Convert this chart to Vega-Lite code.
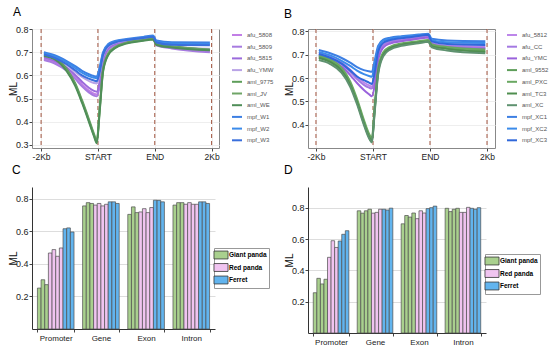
{
"$schema":"https://vega.github.io/schema/vega-lite/v6.json",
"padding":{"left":7,"top":5,"right":0,"bottom":0},
"config":{"font":"Liberation Sans","view":{"stroke":null},
 "axis":{"labelColor":"#222","tickColor":"#444","domainColor":"#333","titleColor":"#111","titleFontWeight":"normal","labelFontSize":9,"titleFontSize":10,"tickSize":3,"labelPadding":1},
 "axisY":{"titleX":-16,"titleBaseline":"alphabetic"},
 "title":{"fontWeight":"normal","fontSize":12,"anchor":"start","frame":"group","baseline":"alphabetic"}},
"columns":2,"bounds":"flush","spacing":{"row":39,"column":89},
"resolve":{"scale":{"color":"independent","fill":"independent","x":"independent","y":"independent","xOffset":"independent"},"legend":{"color":"independent","fill":"independent"}},
"concat":[
{"width":187,"height":119,"view":{"stroke":"#888"},
 "title":{"text":"A","dx":-19,"offset":6},
 "layer":[
 {"data":{"values":[{"x":0},{"x":1},{"x":2},{"x":3}]},"mark":{"type":"rule","strokeDash":[4,3],"color":"#a0523d","strokeWidth":1},
  "encoding":{"x":{"field":"x","type":"quantitative"}}},
 {"data":{"values":[
{"s":"afu_5808","x":0.05,"y":0.672},{"s":"afu_5808","x":0.25,"y":0.656},{"s":"afu_5808","x":0.45,"y":0.627},{"s":"afu_5808","x":0.6,"y":0.593},{"s":"afu_5808","x":0.72,"y":0.562},{"s":"afu_5808","x":0.84,"y":0.535},{"s":"afu_5808","x":0.93,"y":0.521},{"s":"afu_5808","x":0.98,"y":0.518},{"s":"afu_5808","x":1.03,"y":0.56},{"s":"afu_5808","x":1.09,"y":0.66},{"s":"afu_5808","x":1.18,"y":0.713},{"s":"afu_5808","x":1.3,"y":0.733},{"s":"afu_5808","x":1.5,"y":0.746},{"s":"afu_5808","x":1.8,"y":0.756},{"s":"afu_5808","x":1.97,"y":0.761},{"s":"afu_5808","x":2.03,"y":0.733},{"s":"afu_5808","x":2.3,"y":0.72},{"s":"afu_5808","x":2.97,"y":0.705},
{"s":"afu_5809","x":0.05,"y":0.666},{"s":"afu_5809","x":0.25,"y":0.65},{"s":"afu_5809","x":0.45,"y":0.62},{"s":"afu_5809","x":0.6,"y":0.585},{"s":"afu_5809","x":0.72,"y":0.553},{"s":"afu_5809","x":0.84,"y":0.527},{"s":"afu_5809","x":0.93,"y":0.513},{"s":"afu_5809","x":0.98,"y":0.51},{"s":"afu_5809","x":1.03,"y":0.552},{"s":"afu_5809","x":1.09,"y":0.655},{"s":"afu_5809","x":1.18,"y":0.71},{"s":"afu_5809","x":1.3,"y":0.731},{"s":"afu_5809","x":1.5,"y":0.744},{"s":"afu_5809","x":1.8,"y":0.754},{"s":"afu_5809","x":1.97,"y":0.759},{"s":"afu_5809","x":2.03,"y":0.73},{"s":"afu_5809","x":2.3,"y":0.716},{"s":"afu_5809","x":2.97,"y":0.7},
{"s":"afu_5815","x":0.05,"y":0.678},{"s":"afu_5815","x":0.25,"y":0.662},{"s":"afu_5815","x":0.45,"y":0.634},{"s":"afu_5815","x":0.6,"y":0.602},{"s":"afu_5815","x":0.72,"y":0.573},{"s":"afu_5815","x":0.84,"y":0.547},{"s":"afu_5815","x":0.93,"y":0.533},{"s":"afu_5815","x":0.98,"y":0.53},{"s":"afu_5815","x":1.03,"y":0.572},{"s":"afu_5815","x":1.09,"y":0.668},{"s":"afu_5815","x":1.18,"y":0.718},{"s":"afu_5815","x":1.3,"y":0.736},{"s":"afu_5815","x":1.5,"y":0.748},{"s":"afu_5815","x":1.8,"y":0.758},{"s":"afu_5815","x":1.97,"y":0.763},{"s":"afu_5815","x":2.03,"y":0.735},{"s":"afu_5815","x":2.3,"y":0.722},{"s":"afu_5815","x":2.97,"y":0.71},
{"s":"afu_YMW","x":0.05,"y":0.685},{"s":"afu_YMW","x":0.25,"y":0.67},{"s":"afu_YMW","x":0.45,"y":0.645},{"s":"afu_YMW","x":0.6,"y":0.615},{"s":"afu_YMW","x":0.72,"y":0.593},{"s":"afu_YMW","x":0.84,"y":0.576},{"s":"afu_YMW","x":0.93,"y":0.567},{"s":"afu_YMW","x":0.98,"y":0.565},{"s":"afu_YMW","x":1.03,"y":0.605},{"s":"afu_YMW","x":1.09,"y":0.682},{"s":"afu_YMW","x":1.18,"y":0.724},{"s":"afu_YMW","x":1.3,"y":0.74},{"s":"afu_YMW","x":1.5,"y":0.751},{"s":"afu_YMW","x":1.8,"y":0.76},{"s":"afu_YMW","x":1.97,"y":0.765},{"s":"afu_YMW","x":2.03,"y":0.738},{"s":"afu_YMW","x":2.3,"y":0.725},{"s":"afu_YMW","x":2.97,"y":0.715},
{"s":"aml_9775","x":0.05,"y":0.692},{"s":"aml_9775","x":0.25,"y":0.677},{"s":"aml_9775","x":0.45,"y":0.628},{"s":"aml_9775","x":0.6,"y":0.566},{"s":"aml_9775","x":0.72,"y":0.493},{"s":"aml_9775","x":0.84,"y":0.412},{"s":"aml_9775","x":0.93,"y":0.348},{"s":"aml_9775","x":0.98,"y":0.318},{"s":"aml_9775","x":1.03,"y":0.455},{"s":"aml_9775","x":1.09,"y":0.625},{"s":"aml_9775","x":1.18,"y":0.694},{"s":"aml_9775","x":1.3,"y":0.722},{"s":"aml_9775","x":1.5,"y":0.741},{"s":"aml_9775","x":1.8,"y":0.753},{"s":"aml_9775","x":1.97,"y":0.759},{"s":"aml_9775","x":2.03,"y":0.736},{"s":"aml_9775","x":2.3,"y":0.726},{"s":"aml_9775","x":2.97,"y":0.712},
{"s":"aml_JV","x":0.05,"y":0.688},{"s":"aml_JV","x":0.25,"y":0.672},{"s":"aml_JV","x":0.45,"y":0.622},{"s":"aml_JV","x":0.6,"y":0.56},{"s":"aml_JV","x":0.72,"y":0.487},{"s":"aml_JV","x":0.84,"y":0.406},{"s":"aml_JV","x":0.93,"y":0.342},{"s":"aml_JV","x":0.98,"y":0.312},{"s":"aml_JV","x":1.03,"y":0.448},{"s":"aml_JV","x":1.09,"y":0.62},{"s":"aml_JV","x":1.18,"y":0.69},{"s":"aml_JV","x":1.3,"y":0.719},{"s":"aml_JV","x":1.5,"y":0.739},{"s":"aml_JV","x":1.8,"y":0.751},{"s":"aml_JV","x":1.97,"y":0.757},{"s":"aml_JV","x":2.03,"y":0.733},{"s":"aml_JV","x":2.3,"y":0.723},{"s":"aml_JV","x":2.97,"y":0.71},
{"s":"aml_WE","x":0.05,"y":0.684},{"s":"aml_WE","x":0.25,"y":0.668},{"s":"aml_WE","x":0.45,"y":0.618},{"s":"aml_WE","x":0.6,"y":0.555},{"s":"aml_WE","x":0.72,"y":0.482},{"s":"aml_WE","x":0.84,"y":0.401},{"s":"aml_WE","x":0.93,"y":0.338},{"s":"aml_WE","x":0.98,"y":0.308},{"s":"aml_WE","x":1.03,"y":0.442},{"s":"aml_WE","x":1.09,"y":0.615},{"s":"aml_WE","x":1.18,"y":0.687},{"s":"aml_WE","x":1.3,"y":0.717},{"s":"aml_WE","x":1.5,"y":0.737},{"s":"aml_WE","x":1.8,"y":0.749},{"s":"aml_WE","x":1.97,"y":0.755},{"s":"aml_WE","x":2.03,"y":0.731},{"s":"aml_WE","x":2.3,"y":0.72},{"s":"aml_WE","x":2.97,"y":0.708},
{"s":"mpf_W1","x":0.05,"y":0.7},{"s":"mpf_W1","x":0.25,"y":0.686},{"s":"mpf_W1","x":0.45,"y":0.662},{"s":"mpf_W1","x":0.6,"y":0.64},{"s":"mpf_W1","x":0.72,"y":0.62},{"s":"mpf_W1","x":0.84,"y":0.605},{"s":"mpf_W1","x":0.93,"y":0.597},{"s":"mpf_W1","x":0.98,"y":0.595},{"s":"mpf_W1","x":1.03,"y":0.635},{"s":"mpf_W1","x":1.09,"y":0.7},{"s":"mpf_W1","x":1.18,"y":0.735},{"s":"mpf_W1","x":1.3,"y":0.748},{"s":"mpf_W1","x":1.5,"y":0.757},{"s":"mpf_W1","x":1.8,"y":0.766},{"s":"mpf_W1","x":1.97,"y":0.772},{"s":"mpf_W1","x":2.03,"y":0.75},{"s":"mpf_W1","x":2.3,"y":0.743},{"s":"mpf_W1","x":2.97,"y":0.742},
{"s":"mpf_W2","x":0.05,"y":0.696},{"s":"mpf_W2","x":0.25,"y":0.681},{"s":"mpf_W2","x":0.45,"y":0.656},{"s":"mpf_W2","x":0.6,"y":0.632},{"s":"mpf_W2","x":0.72,"y":0.612},{"s":"mpf_W2","x":0.84,"y":0.597},{"s":"mpf_W2","x":0.93,"y":0.59},{"s":"mpf_W2","x":0.98,"y":0.588},{"s":"mpf_W2","x":1.03,"y":0.625},{"s":"mpf_W2","x":1.09,"y":0.695},{"s":"mpf_W2","x":1.18,"y":0.731},{"s":"mpf_W2","x":1.3,"y":0.745},{"s":"mpf_W2","x":1.5,"y":0.754},{"s":"mpf_W2","x":1.8,"y":0.763},{"s":"mpf_W2","x":1.97,"y":0.769},{"s":"mpf_W2","x":2.03,"y":0.746},{"s":"mpf_W2","x":2.3,"y":0.737},{"s":"mpf_W2","x":2.97,"y":0.735},
{"s":"mpf_W3","x":0.05,"y":0.69},{"s":"mpf_W3","x":0.25,"y":0.674},{"s":"mpf_W3","x":0.45,"y":0.648},{"s":"mpf_W3","x":0.6,"y":0.622},{"s":"mpf_W3","x":0.72,"y":0.6},{"s":"mpf_W3","x":0.84,"y":0.586},{"s":"mpf_W3","x":0.93,"y":0.578},{"s":"mpf_W3","x":0.98,"y":0.575},{"s":"mpf_W3","x":1.03,"y":0.612},{"s":"mpf_W3","x":1.09,"y":0.688},{"s":"mpf_W3","x":1.18,"y":0.727},{"s":"mpf_W3","x":1.3,"y":0.742},{"s":"mpf_W3","x":1.5,"y":0.752},{"s":"mpf_W3","x":1.8,"y":0.761},{"s":"mpf_W3","x":1.97,"y":0.767},{"s":"mpf_W3","x":2.03,"y":0.742},{"s":"mpf_W3","x":2.3,"y":0.732},{"s":"mpf_W3","x":2.97,"y":0.73}
 ]},
  "mark":{"type":"line","interpolate":"monotone","strokeWidth":2},
  "encoding":{
   "x":{"field":"x","type":"quantitative","scale":{"domain":[-0.16,3.13],"nice":false,"zero":false},
     "axis":{"title":null,"values":[0,0.5,1,1.5,2,2.5,3],"labelExpr":"datum.value==0?'-2Kb':datum.value==1?'START':datum.value==2?'END':datum.value==3?'2Kb':''","labelOverlap":false,"labelFlush":false,"grid":true,"gridColor":"#eeeeee","domain":false,"labelFontSize":8.5,"tickColor":{"condition":{"test":"datum.value % 1 != 0","value":"transparent"},"value":"#444"}}},
   "y":{"field":"y","type":"quantitative","scale":{"domain":[0.287,0.8],"nice":false,"zero":false},
     "axis":{"title":"ML","values":[0.3,0.4,0.5,0.6,0.7,0.8],"grid":true,"gridColor":"#eeeeee","domain":false}},
   "color":{"field":"s","type":"nominal","scale":{"domain":["afu_5808","afu_5809","afu_5815","afu_YMW","aml_9775","aml_JV","aml_WE","mpf_W1","mpf_W2","mpf_W3"],"range":["#c27fe6","#a77be0","#9b6bdc","#b9a3e6","#5e9e5a","#6fa566","#4f8e58","#3d7fe3","#3b8bea","#3a6fdc"]},
     "legend":{"title":null,"orient":"none","legendX":199,"legendY":0,"symbolType":"stroke","symbolStrokeWidth":2,"symbolSize":100,"labelFontSize":6,"labelColor":"#555","rowPadding":1.7,"labelOffset":4}}
  }}
 ]},
{"width":187,"height":119,"view":{"stroke":"#888"},
 "title":{"text":"B","dx":-24,"offset":6},
 "layer":[
 {"data":{"values":[{"x":0},{"x":1},{"x":2},{"x":3}]},"mark":{"type":"rule","strokeDash":[4,3],"color":"#a0523d","strokeWidth":1},
  "encoding":{"x":{"field":"x","type":"quantitative"}}},
 {"data":{"values":[
{"s":"afu_5812","x":0.05,"y":0.706},{"s":"afu_5812","x":0.25,"y":0.691},{"s":"afu_5812","x":0.45,"y":0.666},{"s":"afu_5812","x":0.6,"y":0.636},{"s":"afu_5812","x":0.72,"y":0.606},{"s":"afu_5812","x":0.84,"y":0.581},{"s":"afu_5812","x":0.93,"y":0.569},{"s":"afu_5812","x":0.98,"y":0.563},{"s":"afu_5812","x":1.03,"y":0.608},{"s":"afu_5812","x":1.09,"y":0.7},{"s":"afu_5812","x":1.18,"y":0.745},{"s":"afu_5812","x":1.3,"y":0.758},{"s":"afu_5812","x":1.5,"y":0.766},{"s":"afu_5812","x":1.8,"y":0.775},{"s":"afu_5812","x":1.97,"y":0.78},{"s":"afu_5812","x":2.03,"y":0.752},{"s":"afu_5812","x":2.3,"y":0.739},{"s":"afu_5812","x":2.97,"y":0.735},
{"s":"afu_CC","x":0.05,"y":0.7},{"s":"afu_CC","x":0.25,"y":0.685},{"s":"afu_CC","x":0.45,"y":0.659},{"s":"afu_CC","x":0.6,"y":0.627},{"s":"afu_CC","x":0.72,"y":0.596},{"s":"afu_CC","x":0.84,"y":0.571},{"s":"afu_CC","x":0.93,"y":0.559},{"s":"afu_CC","x":0.98,"y":0.555},{"s":"afu_CC","x":1.03,"y":0.6},{"s":"afu_CC","x":1.09,"y":0.69},{"s":"afu_CC","x":1.18,"y":0.74},{"s":"afu_CC","x":1.3,"y":0.755},{"s":"afu_CC","x":1.5,"y":0.763},{"s":"afu_CC","x":1.8,"y":0.772},{"s":"afu_CC","x":1.97,"y":0.777},{"s":"afu_CC","x":2.03,"y":0.749},{"s":"afu_CC","x":2.3,"y":0.735},{"s":"afu_CC","x":2.97,"y":0.73},
{"s":"afu_YMC","x":0.05,"y":0.695},{"s":"afu_YMC","x":0.25,"y":0.679},{"s":"afu_YMC","x":0.45,"y":0.649},{"s":"afu_YMC","x":0.6,"y":0.613},{"s":"afu_YMC","x":0.72,"y":0.579},{"s":"afu_YMC","x":0.84,"y":0.549},{"s":"afu_YMC","x":0.93,"y":0.531},{"s":"afu_YMC","x":0.98,"y":0.522},{"s":"afu_YMC","x":1.03,"y":0.568},{"s":"afu_YMC","x":1.09,"y":0.675},{"s":"afu_YMC","x":1.18,"y":0.73},{"s":"afu_YMC","x":1.3,"y":0.748},{"s":"afu_YMC","x":1.5,"y":0.758},{"s":"afu_YMC","x":1.8,"y":0.768},{"s":"afu_YMC","x":1.97,"y":0.774},{"s":"afu_YMC","x":2.03,"y":0.745},{"s":"afu_YMC","x":2.3,"y":0.731},{"s":"afu_YMC","x":2.97,"y":0.725},
{"s":"aml_9552","x":0.05,"y":0.69},{"s":"aml_9552","x":0.25,"y":0.673},{"s":"aml_9552","x":0.45,"y":0.636},{"s":"aml_9552","x":0.6,"y":0.576},{"s":"aml_9552","x":0.72,"y":0.501},{"s":"aml_9552","x":0.84,"y":0.411},{"s":"aml_9552","x":0.93,"y":0.353},{"s":"aml_9552","x":0.98,"y":0.333},{"s":"aml_9552","x":1.03,"y":0.47},{"s":"aml_9552","x":1.09,"y":0.63},{"s":"aml_9552","x":1.18,"y":0.705},{"s":"aml_9552","x":1.3,"y":0.73},{"s":"aml_9552","x":1.5,"y":0.745},{"s":"aml_9552","x":1.8,"y":0.755},{"s":"aml_9552","x":1.97,"y":0.76},{"s":"aml_9552","x":2.03,"y":0.74},{"s":"aml_9552","x":2.3,"y":0.728},{"s":"aml_9552","x":2.97,"y":0.716},
{"s":"aml_PXC","x":0.05,"y":0.697},{"s":"aml_PXC","x":0.25,"y":0.68},{"s":"aml_PXC","x":0.45,"y":0.644},{"s":"aml_PXC","x":0.6,"y":0.586},{"s":"aml_PXC","x":0.72,"y":0.511},{"s":"aml_PXC","x":0.84,"y":0.421},{"s":"aml_PXC","x":0.93,"y":0.362},{"s":"aml_PXC","x":0.98,"y":0.343},{"s":"aml_PXC","x":1.03,"y":0.48},{"s":"aml_PXC","x":1.09,"y":0.638},{"s":"aml_PXC","x":1.18,"y":0.71},{"s":"aml_PXC","x":1.3,"y":0.734},{"s":"aml_PXC","x":1.5,"y":0.748},{"s":"aml_PXC","x":1.8,"y":0.758},{"s":"aml_PXC","x":1.97,"y":0.763},{"s":"aml_PXC","x":2.03,"y":0.744},{"s":"aml_PXC","x":2.3,"y":0.733},{"s":"aml_PXC","x":2.97,"y":0.722},
{"s":"aml_TC3","x":0.05,"y":0.686},{"s":"aml_TC3","x":0.25,"y":0.668},{"s":"aml_TC3","x":0.45,"y":0.631},{"s":"aml_TC3","x":0.6,"y":0.571},{"s":"aml_TC3","x":0.72,"y":0.496},{"s":"aml_TC3","x":0.84,"y":0.406},{"s":"aml_TC3","x":0.93,"y":0.348},{"s":"aml_TC3","x":0.98,"y":0.328},{"s":"aml_TC3","x":1.03,"y":0.462},{"s":"aml_TC3","x":1.09,"y":0.624},{"s":"aml_TC3","x":1.18,"y":0.7},{"s":"aml_TC3","x":1.3,"y":0.727},{"s":"aml_TC3","x":1.5,"y":0.742},{"s":"aml_TC3","x":1.8,"y":0.752},{"s":"aml_TC3","x":1.97,"y":0.757},{"s":"aml_TC3","x":2.03,"y":0.737},{"s":"aml_TC3","x":2.3,"y":0.725},{"s":"aml_TC3","x":2.97,"y":0.712},
{"s":"aml_XC","x":0.05,"y":0.677},{"s":"aml_XC","x":0.25,"y":0.66},{"s":"aml_XC","x":0.45,"y":0.622},{"s":"aml_XC","x":0.6,"y":0.563},{"s":"aml_XC","x":0.72,"y":0.488},{"s":"aml_XC","x":0.84,"y":0.4},{"s":"aml_XC","x":0.93,"y":0.343},{"s":"aml_XC","x":0.98,"y":0.325},{"s":"aml_XC","x":1.03,"y":0.455},{"s":"aml_XC","x":1.09,"y":0.615},{"s":"aml_XC","x":1.18,"y":0.693},{"s":"aml_XC","x":1.3,"y":0.722},{"s":"aml_XC","x":1.5,"y":0.738},{"s":"aml_XC","x":1.8,"y":0.749},{"s":"aml_XC","x":1.97,"y":0.755},{"s":"aml_XC","x":2.03,"y":0.732},{"s":"aml_XC","x":2.3,"y":0.718},{"s":"aml_XC","x":2.97,"y":0.706},
{"s":"mpf_XC1","x":0.05,"y":0.72},{"s":"mpf_XC1","x":0.25,"y":0.706},{"s":"mpf_XC1","x":0.45,"y":0.686},{"s":"mpf_XC1","x":0.6,"y":0.666},{"s":"mpf_XC1","x":0.72,"y":0.647},{"s":"mpf_XC1","x":0.84,"y":0.634},{"s":"mpf_XC1","x":0.93,"y":0.629},{"s":"mpf_XC1","x":0.98,"y":0.627},{"s":"mpf_XC1","x":1.03,"y":0.675},{"s":"mpf_XC1","x":1.09,"y":0.738},{"s":"mpf_XC1","x":1.18,"y":0.765},{"s":"mpf_XC1","x":1.3,"y":0.773},{"s":"mpf_XC1","x":1.5,"y":0.779},{"s":"mpf_XC1","x":1.8,"y":0.786},{"s":"mpf_XC1","x":1.97,"y":0.79},{"s":"mpf_XC1","x":2.03,"y":0.768},{"s":"mpf_XC1","x":2.3,"y":0.761},{"s":"mpf_XC1","x":2.97,"y":0.758},
{"s":"mpf_XC2","x":0.05,"y":0.712},{"s":"mpf_XC2","x":0.25,"y":0.697},{"s":"mpf_XC2","x":0.45,"y":0.674},{"s":"mpf_XC2","x":0.6,"y":0.652},{"s":"mpf_XC2","x":0.72,"y":0.632},{"s":"mpf_XC2","x":0.84,"y":0.617},{"s":"mpf_XC2","x":0.93,"y":0.609},{"s":"mpf_XC2","x":0.98,"y":0.606},{"s":"mpf_XC2","x":1.03,"y":0.655},{"s":"mpf_XC2","x":1.09,"y":0.728},{"s":"mpf_XC2","x":1.18,"y":0.76},{"s":"mpf_XC2","x":1.3,"y":0.769},{"s":"mpf_XC2","x":1.5,"y":0.776},{"s":"mpf_XC2","x":1.8,"y":0.783},{"s":"mpf_XC2","x":1.97,"y":0.787},{"s":"mpf_XC2","x":2.03,"y":0.762},{"s":"mpf_XC2","x":2.3,"y":0.753},{"s":"mpf_XC2","x":2.97,"y":0.75},
{"s":"mpf_XC3","x":0.05,"y":0.703},{"s":"mpf_XC3","x":0.25,"y":0.687},{"s":"mpf_XC3","x":0.45,"y":0.662},{"s":"mpf_XC3","x":0.6,"y":0.633},{"s":"mpf_XC3","x":0.72,"y":0.607},{"s":"mpf_XC3","x":0.84,"y":0.591},{"s":"mpf_XC3","x":0.93,"y":0.581},{"s":"mpf_XC3","x":0.98,"y":0.575},{"s":"mpf_XC3","x":1.03,"y":0.625},{"s":"mpf_XC3","x":1.09,"y":0.712},{"s":"mpf_XC3","x":1.18,"y":0.751},{"s":"mpf_XC3","x":1.3,"y":0.763},{"s":"mpf_XC3","x":1.5,"y":0.771},{"s":"mpf_XC3","x":1.8,"y":0.78},{"s":"mpf_XC3","x":1.97,"y":0.785},{"s":"mpf_XC3","x":2.03,"y":0.757},{"s":"mpf_XC3","x":2.3,"y":0.746},{"s":"mpf_XC3","x":2.97,"y":0.742}
 ]},
  "mark":{"type":"line","interpolate":"monotone","strokeWidth":2},
  "encoding":{
   "x":{"field":"x","type":"quantitative","scale":{"domain":[-0.14,3.14],"nice":false,"zero":false},
     "axis":{"title":null,"values":[0,0.5,1,1.5,2,2.5,3],"labelExpr":"datum.value==0?'-2Kb':datum.value==1?'START':datum.value==2?'END':datum.value==3?'2Kb':''","labelOverlap":false,"labelFlush":false,"grid":true,"gridColor":"#eeeeee","domain":false,"labelFontSize":8.5,"tickColor":{"condition":{"test":"datum.value % 1 != 0","value":"transparent"},"value":"#444"}}},
   "y":{"field":"y","type":"quantitative","scale":{"domain":[0.301,0.81],"nice":false,"zero":false},
     "axis":{"title":"ML","values":[0.4,0.5,0.6,0.7,0.8],"grid":true,"gridColor":"#eeeeee","domain":false}},
   "color":{"field":"s","type":"nominal","scale":{"domain":["afu_5812","afu_CC","afu_YMC","aml_9552","aml_PXC","aml_TC3","aml_XC","mpf_XC1","mpf_XC2","mpf_XC3"],"range":["#bd86ea","#a479e2","#9a62dc","#5e9e5a","#6aa862","#4f8e4f","#5f9270","#3d7fe3","#3b8bea","#3068da"]},
     "legend":{"title":null,"orient":"none","legendX":198,"legendY":0,"symbolType":"stroke","symbolStrokeWidth":2,"symbolSize":100,"labelFontSize":6,"labelColor":"#555","rowPadding":1.7,"labelOffset":4}}
  }}
 ]},
{"width":183,"height":142,
 "title":{"text":"C","dx":-20,"offset":10},
 "data":{"values":[
{"g":"Promoter","i":0,"sp":"Giant panda","v":0.251},{"g":"Promoter","i":1,"sp":"Giant panda","v":0.302},{"g":"Promoter","i":2,"sp":"Giant panda","v":0.272},{"g":"Promoter","i":3,"sp":"Red panda","v":0.466},{"g":"Promoter","i":4,"sp":"Red panda","v":0.487},{"g":"Promoter","i":5,"sp":"Red panda","v":0.446},{"g":"Promoter","i":6,"sp":"Red panda","v":0.497},{"g":"Promoter","i":7,"sp":"Ferret","v":0.615},{"g":"Promoter","i":8,"sp":"Ferret","v":0.62},{"g":"Promoter","i":9,"sp":"Ferret","v":0.595},
{"g":"Gene","i":0,"sp":"Giant panda","v":0.755},{"g":"Gene","i":1,"sp":"Giant panda","v":0.775},{"g":"Gene","i":2,"sp":"Giant panda","v":0.77},{"g":"Gene","i":3,"sp":"Red panda","v":0.76},{"g":"Gene","i":4,"sp":"Red panda","v":0.77},{"g":"Gene","i":5,"sp":"Red panda","v":0.755},{"g":"Gene","i":6,"sp":"Red panda","v":0.765},{"g":"Gene","i":7,"sp":"Ferret","v":0.78},{"g":"Gene","i":8,"sp":"Ferret","v":0.78},{"g":"Gene","i":9,"sp":"Ferret","v":0.77},
{"g":"Exon","i":0,"sp":"Giant panda","v":0.703},{"g":"Exon","i":1,"sp":"Giant panda","v":0.749},{"g":"Exon","i":2,"sp":"Giant panda","v":0.714},{"g":"Exon","i":3,"sp":"Red panda","v":0.718},{"g":"Exon","i":4,"sp":"Red panda","v":0.738},{"g":"Exon","i":5,"sp":"Red panda","v":0.714},{"g":"Exon","i":6,"sp":"Red panda","v":0.745},{"g":"Exon","i":7,"sp":"Ferret","v":0.79},{"g":"Exon","i":8,"sp":"Ferret","v":0.789},{"g":"Exon","i":9,"sp":"Ferret","v":0.78},
{"g":"Intron","i":0,"sp":"Giant panda","v":0.76},{"g":"Intron","i":1,"sp":"Giant panda","v":0.775},{"g":"Intron","i":2,"sp":"Giant panda","v":0.775},{"g":"Intron","i":3,"sp":"Red panda","v":0.765},{"g":"Intron","i":4,"sp":"Red panda","v":0.775},{"g":"Intron","i":5,"sp":"Red panda","v":0.765},{"g":"Intron","i":6,"sp":"Red panda","v":0.765},{"g":"Intron","i":7,"sp":"Ferret","v":0.78},{"g":"Intron","i":8,"sp":"Ferret","v":0.78},{"g":"Intron","i":9,"sp":"Ferret","v":0.77}
 ]},
 "mark":{"type":"bar","stroke":"#4d4d4d","strokeWidth":0.7},
 "encoding":{
  "x":{"field":"g","type":"nominal","sort":["Promoter","Gene","Exon","Intron"],"scale":{"paddingInner":0.19,"paddingOuter":0.12},"axis":{"title":null,"labelAngle":0,"tickBand":"extent","labelFontSize":8,"labelPadding":2}},
  "xOffset":{"field":"i","type":"ordinal","scale":{"paddingInner":0,"paddingOuter":0}},
  "y":{"field":"v","type":"quantitative","scale":{"domain":[0,0.871],"nice":false},"axis":{"title":"ML","values":[0.2,0.4,0.6,0.8]}},
  "fill":{"field":"sp","type":"nominal","scale":{"domain":["Giant panda","Red panda","Ferret"],"range":["#a9d08e","#f0c4f0","#62b4ee"]},
    "legend":{"title":null,"orient":"none","legendX":182,"legendY":61,"symbolType":"M-1.6,-0.9H1.6V0.9H-1.6Z","symbolSize":77,"symbolStrokeColor":"#333","symbolStrokeWidth":0.8,"labelFontSize":6.5,"labelFontWeight":"bold","rowPadding":0.5,"padding":2,"strokeColor":"#999","fillColor":"white","labelOffset":3}}
 }},
{"width":178,"height":146,
 "title":{"text":"D","dx":-24,"offset":10},
 "data":{"values":[
{"g":"Promoter","i":0,"sp":"Giant panda","v":0.257},{"g":"Promoter","i":1,"sp":"Giant panda","v":0.349},{"g":"Promoter","i":2,"sp":"Giant panda","v":0.313},{"g":"Promoter","i":3,"sp":"Giant panda","v":0.343},{"g":"Promoter","i":4,"sp":"Red panda","v":0.483},{"g":"Promoter","i":5,"sp":"Red panda","v":0.589},{"g":"Promoter","i":6,"sp":"Red panda","v":0.546},{"g":"Promoter","i":7,"sp":"Ferret","v":0.587},{"g":"Promoter","i":8,"sp":"Ferret","v":0.63},{"g":"Promoter","i":9,"sp":"Ferret","v":0.653},
{"g":"Gene","i":0,"sp":"Giant panda","v":0.78},{"g":"Gene","i":1,"sp":"Giant panda","v":0.765},{"g":"Gene","i":2,"sp":"Giant panda","v":0.78},{"g":"Gene","i":3,"sp":"Giant panda","v":0.79},{"g":"Gene","i":4,"sp":"Red panda","v":0.765},{"g":"Gene","i":5,"sp":"Red panda","v":0.77},{"g":"Gene","i":6,"sp":"Red panda","v":0.79},{"g":"Gene","i":7,"sp":"Ferret","v":0.79},{"g":"Gene","i":8,"sp":"Ferret","v":0.785},{"g":"Gene","i":9,"sp":"Ferret","v":0.797},
{"g":"Exon","i":0,"sp":"Giant panda","v":0.697},{"g":"Exon","i":1,"sp":"Giant panda","v":0.75},{"g":"Exon","i":2,"sp":"Giant panda","v":0.74},{"g":"Exon","i":3,"sp":"Giant panda","v":0.766},{"g":"Exon","i":4,"sp":"Red panda","v":0.73},{"g":"Exon","i":5,"sp":"Red panda","v":0.78},{"g":"Exon","i":6,"sp":"Red panda","v":0.766},{"g":"Exon","i":7,"sp":"Ferret","v":0.794},{"g":"Exon","i":8,"sp":"Ferret","v":0.8},{"g":"Exon","i":9,"sp":"Ferret","v":0.81},
{"g":"Intron","i":0,"sp":"Giant panda","v":0.796},{"g":"Intron","i":1,"sp":"Giant panda","v":0.775},{"g":"Intron","i":2,"sp":"Giant panda","v":0.79},{"g":"Intron","i":3,"sp":"Giant panda","v":0.796},{"g":"Intron","i":4,"sp":"Red panda","v":0.77},{"g":"Intron","i":5,"sp":"Red panda","v":0.77},{"g":"Intron","i":6,"sp":"Red panda","v":0.802},{"g":"Intron","i":7,"sp":"Ferret","v":0.796},{"g":"Intron","i":8,"sp":"Ferret","v":0.79},{"g":"Intron","i":9,"sp":"Ferret","v":0.8}
 ]},
 "mark":{"type":"bar","stroke":"#4d4d4d","strokeWidth":0.7},
 "encoding":{
  "x":{"field":"g","type":"nominal","sort":["Promoter","Gene","Exon","Intron"],"scale":{"paddingInner":0.19,"paddingOuter":0.12},"axis":{"title":null,"labelAngle":0,"tickBand":"extent","labelFontSize":8,"labelPadding":2}},
  "xOffset":{"field":"i","type":"ordinal","scale":{"paddingInner":0,"paddingOuter":0}},
  "y":{"field":"v","type":"quantitative","scale":{"domain":[0,0.932],"nice":false},"axis":{"title":"ML","values":[0.2,0.4,0.6,0.8]}},
  "fill":{"field":"sp","type":"nominal","scale":{"domain":["Giant panda","Red panda","Ferret"],"range":["#a9d08e","#f0c4f0","#62b4ee"]},
    "legend":{"title":null,"orient":"none","legendX":177,"legendY":67,"symbolType":"M-1.6,-0.9H1.6V0.9H-1.6Z","symbolSize":77,"symbolStrokeColor":"#333","symbolStrokeWidth":0.8,"labelFontSize":6.5,"labelFontWeight":"bold","rowPadding":0.5,"padding":2,"strokeColor":"#999","fillColor":"white","labelOffset":3}}
 }}
]}
